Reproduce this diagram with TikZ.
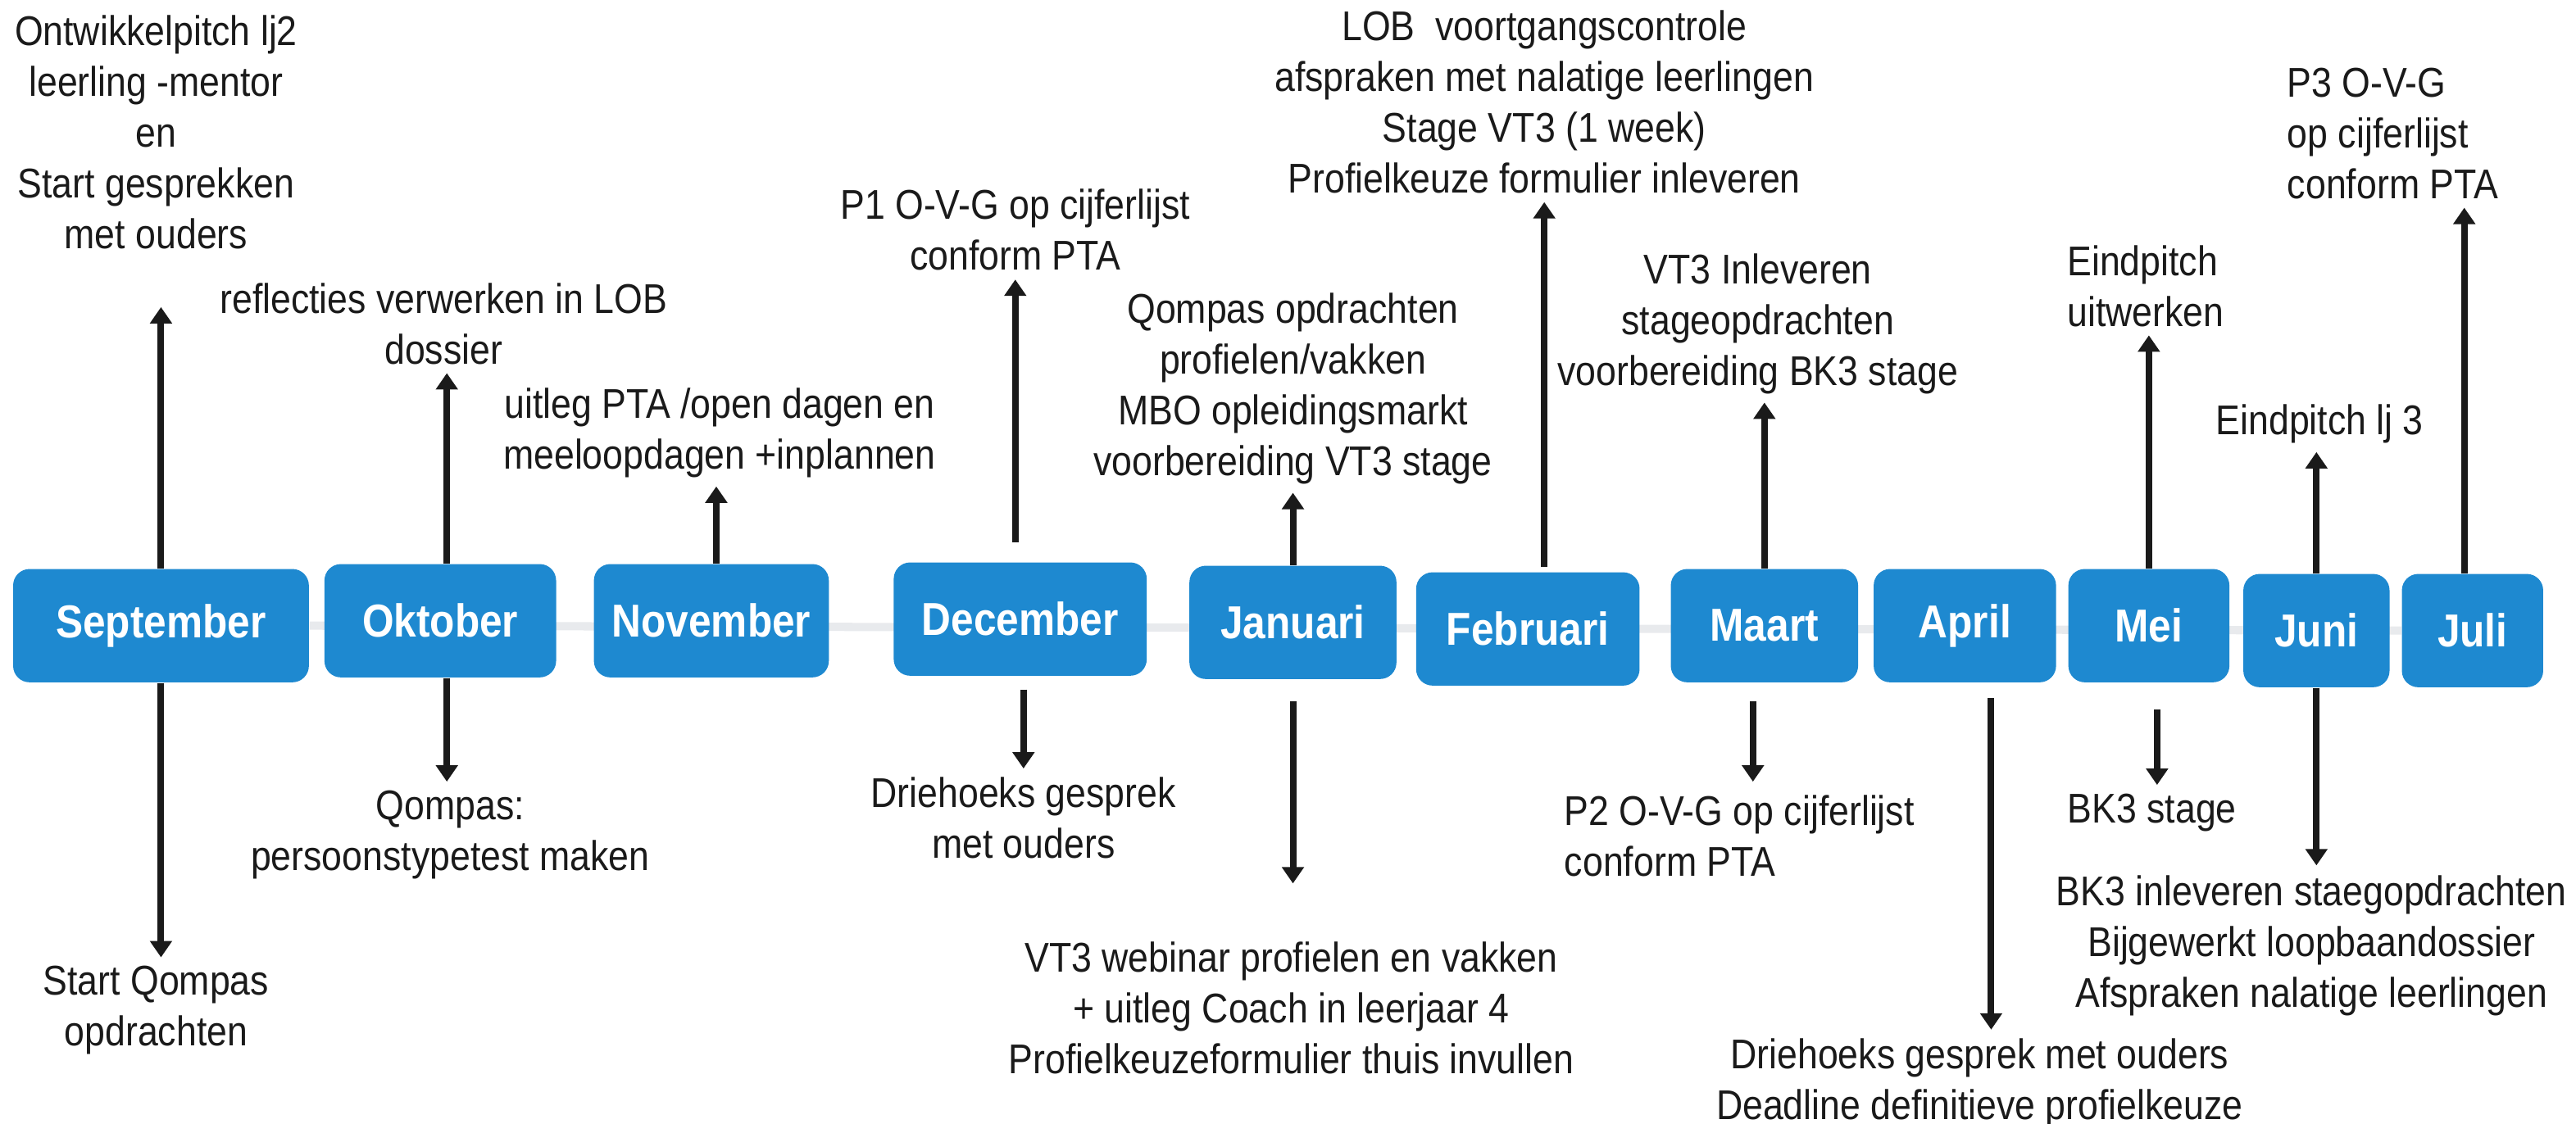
\documentclass[tikz,border=0pt]{standalone}
\usepackage{fontspec}
\setmainfont{Liberation Sans}[FakeStretch=0.88]
\usetikzlibrary{
  arrows.meta,
  positioning,
  backgrounds
}
\definecolor{monthblue}{RGB}{30,137,208}
\definecolor{inkblack}{RGB}{26,26,26}
\definecolor{railgray}{RGB}{232,234,237}

\begin{document}
\begin{tikzpicture}[x=0.2mm, y=-0.2mm,
  month/.style={fill=monthblue, text=white, rounded corners=2mm, minimum height=13.8mm, inner sep=0pt, font=\fontsize{16}{18}\selectfont\bfseries},
  note/.style={text=inkblack, align=center, inner sep=0pt, anchor=north, font=\fontsize{14.4}{17.6}\selectfont},
  upline/.style={-{Triangle[width=2.6mm,length=2mm]}, line width=0.8mm, draw=inkblack, shorten >=1mm},
  rail/.style={draw=railgray, line width=1mm}]
\useasboundingbox (0,0) rectangle (1568,684);

% months
\node[month, minimum width=36mm] (sep) at (98,381) {September};
\node[month, minimum width=28.2mm] (okt) at (268,378) {Oktober};
\node[month, minimum width=28.6mm] (nov) at (433,378) {November};
\node[month, minimum width=30.8mm] (dec) at (621,377) {December};
\node[month, minimum width=25.2mm] (jan) at (787,379) {Januari};
\node[month, minimum width=27.2mm] (feb) at (930,383) {Februari};
\node[month, minimum width=22.8mm] (mrt) at (1074,381) {Maart};
\node[month, minimum width=22.2mm] (apr) at (1196,381) {April};
\node[month, minimum width=19.6mm] (mei) at (1308,381) {Mei};
\node[month, minimum width=17.8mm] (jun) at (1410,384) {Juni};
\node[month, minimum width=17.2mm] (jul) at (1505,384) {Juli};

\begin{pgfonlayer}{background}
\draw[rail] (sep.east) -- (jul.west);
\end{pgfonlayer}

% above the timeline
\node[note] (sepup) at (95,9) {Ontwikkelpitch lj2\\leerling -mentor\\en\\Start gesprekken\\met ouders};
\node[note] (oktup) at (270,172) {reflecties verwerken in LOB\\dossier};
\node[note] (novup) at (438,236) {uitleg PTA /open dagen en\\meeloopdagen +inplannen};
\node[note] (decup) at (618,115) {P1 O-V-G op cijferlijst\\conform PTA};
\node[note] (janup) at (787,178) {Qompas opdrachten\\profielen/vakken\\MBO opleidingsmarkt\\voorbereiding VT3 stage};
\node[note] (febup) at (940,6) {LOB~ voortgangscontrole\\afspraken met nalatige leerlingen\\Stage VT3 (1 week)\\Profielkeuze formulier inleveren};
\node[note] (mrtup) at (1070,154) {VT3 Inleveren\\stageopdrachten\\voorbereiding BK3 stage};
\node[note, anchor=north west, align=left] (meiup) at (1258,149) {Eindpitch\\uitwerken};
\node[note] (junup) at (1412,246) {Eindpitch lj 3};
\node[note, anchor=north west, align=left] (julup) at (1392,41) {P3 O-V-G\\op cijferlijst\\conform PTA};

% below the timeline
\node[note] (sepdown) at (95,588) {Start Qompas\\opdrachten};
\node[note] (oktdown) at (274,481) {Qompas:\\persoonstypetest maken};
\node[note] (decdown) at (623,473) {Driehoeks gesprek\\met ouders};
\node[note] (jandown) at (786,573) {VT3 webinar profielen en vakken\\+ uitleg Coach in leerjaar 4\\Profielkeuzeformulier thuis invullen};
\node[note, anchor=north west, align=left] (mrtdown) at (952,484) {P2 O-V-G op cijferlijst\\conform PTA};
\node[note] (aprdown) at (1205,632) {Driehoeks gesprek met ouders\\Deadline definitieve profielkeuze};
\node[note] (meidown) at (1310,483) {BK3 stage};
\node[note] (jundown) at (1407,533) {BK3 inleveren staegopdrachten\\Bijgewerkt loopbaandossier\\Afspraken nalatige leerlingen};

% arrows up
\draw[upline, shorten >=7mm] (sep.north) -- (sep.north |- sepup.south);
\draw[upline] ([xshift=0.8mm]okt.north) -- ([xshift=0.8mm]okt.north |- oktup.south);
\draw[upline] ([xshift=0.6mm]nov.north) -- ([xshift=0.6mm]nov.north |- novup.south);
\draw[upline, shorten <=2.4mm] ([xshift=-0.6mm]dec.north) -- ([xshift=-0.6mm]dec.north |- decup.south);
\draw[upline] (jan.north) -- (jan.north |- janup.south);
\draw[upline, shorten <=0.6mm] ([xshift=2mm]feb.north) -- ([xshift=2mm]feb.north |- febup.south);
\draw[upline] (mrt.north) -- (mrt.north |- mrtup.south);
\draw[upline] (mei.north) -- (mei.north |- meiup.south);
\draw[upline] (jun.north) -- (jun.north |- junup.south);
\draw[upline] ([xshift=-1mm]jul.north) -- ([xshift=-1mm]jul.north |- julup.south);

% arrows down
\draw[upline] (sep.south) -- (sep.south |- sepdown.north);
\draw[upline] ([xshift=0.8mm]okt.south) -- ([xshift=0.8mm]okt.south |- oktdown.north);
\draw[upline, shorten <=1.6mm] ([xshift=0.4mm]dec.south) -- ([xshift=0.4mm]dec.south |- decdown.north);
\draw[upline, shorten <=2.6mm, shorten >=7mm] (jan.south) -- (jan.south |- jandown.north);
\draw[upline, shorten <=2.2mm, shorten >=1.6mm] ([xshift=-1.4mm]mrt.south) -- ([xshift=-1.4mm]mrt.south |- mrtdown.north);
\draw[upline, shorten <=1.8mm] ([xshift=3.2mm]apr.south) -- ([xshift=3.2mm]apr.south |- aprdown.north);
\draw[upline, shorten <=3.2mm] ([xshift=1mm]mei.south) -- ([xshift=1mm]mei.south |- meidown.north);
\draw[upline, shorten >=1.2mm] (jun.south) -- (jun.south |- jundown.north);
\end{tikzpicture}
\end{document}
